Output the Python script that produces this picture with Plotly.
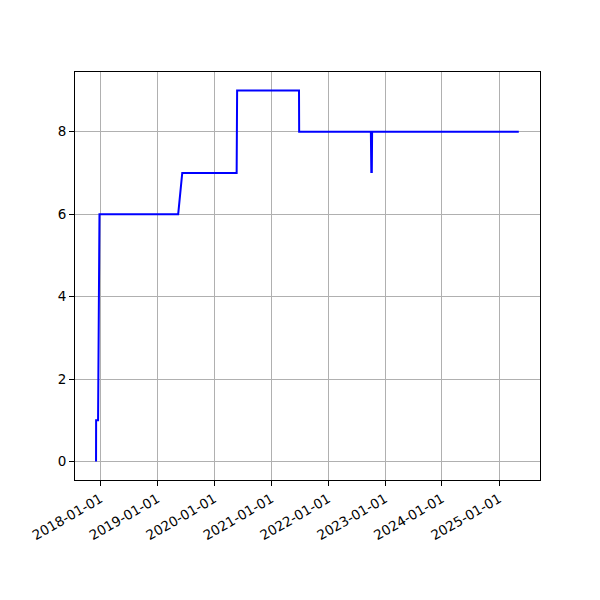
import plotly.graph_objects as go

dates = [
    "2017-12-04", "2017-12-04 12:00", "2017-12-17", "2017-12-26",
    "2019-05-15", "2019-06-10",
    "2020-05-24", "2020-05-25", "2020-05-27",
    "2021-06-28", "2021-06-29",
    "2022-10-02", "2022-10-02 12:00", "2022-10-04", "2022-10-05", "2022-10-07", "2022-10-08", "2022-10-10",
    "2025-05-08",
]
values = [
    0, 1, 1, 6,
    6, 7,
    7, 8, 9,
    9, 8,
    8, 7, 8, 7, 8, 7, 8,
    8,
]
tick_vals = ["2018-01-01", "2019-01-01", "2020-01-01", "2021-01-01",
             "2022-01-01", "2023-01-01", "2024-01-01", "2025-01-01"]
y_ticks = [0, 2, 4, 6, 8]

fig = go.Figure()
fig.add_trace(go.Scatter(x=dates, y=values, mode="lines",
                         line=dict(color="#0000ff", width=2), showlegend=False))

axis_common = dict(showline=True, linecolor="black", linewidth=1, mirror=True,
                   showgrid=True, gridcolor="#b0b0b0", gridwidth=1,
                   ticks="outside", ticklen=5, tickcolor="black", zeroline=False,
                   tickfont=dict(family="DejaVu Sans", size=13.5, color="black"))

fig.update_xaxes(type="date", range=["2017-07-22", "2025-09-21"],
                 tickvals=tick_vals, ticktext=tick_vals, tickangle=-30, **axis_common)
fig.update_yaxes(range=[-0.45, 9.45], tickvals=y_ticks,
                 ticktext=[str(v) for v in y_ticks], **axis_common)

fig.update_layout(width=600, height=600, margin=dict(l=67, r=68, t=64, b=128, autoexpand=False),
                  plot_bgcolor="white", paper_bgcolor="white",
                  font=dict(family="DejaVu Sans", size=13.5, color="black"))

fig.write_html("out.html")
